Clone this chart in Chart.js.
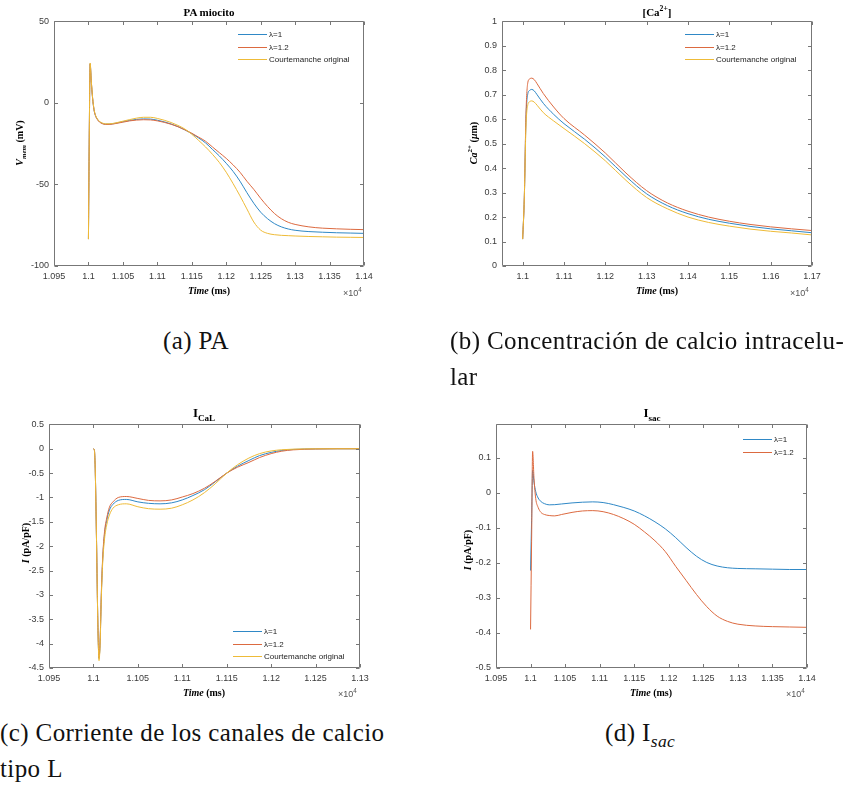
<!DOCTYPE html>
<html>
<head>
<meta charset="utf-8">
<script src="https://cdn.jsdelivr.net/npm/chart.js@4.4.1/dist/chart.umd.min.js"></script>
<style>
    body { margin: 0; background: #fff; width: 850px; height: 785px; position: relative; overflow: hidden; }
    canvas { position: absolute; }
    .lbl { position: absolute; transform: translate(-50%, -50%); white-space: nowrap;
           font-family: "Liberation Serif", "Times New Roman", serif; font-weight: bold; color: #000; }
    .ttl { font-size: 11px; }
    .ttl-big { font-size: 13px; }
    .xl { font-size: 10px; }
    .yl { font-size: 10px; transform: translate(-50%, -50%) rotate(-90deg); }
    .exp { position: absolute; transform: translateY(-50%); font-family: "Liberation Sans", Arial, sans-serif;
           font-size: 9px; color: #555; white-space: nowrap; }
    .cap { position: absolute; font-family: "Liberation Serif", "Times New Roman", serif; font-size: 25px;
           line-height: 36px; letter-spacing: 0.4px; white-space: nowrap; color: #111; }
    sub, sup { font-size: 70%; line-height: 0; }
</style>
</head>
<body>
<canvas id="chart-pa"></canvas>
<canvas id="chart-ca"></canvas>
<canvas id="chart-ical"></canvas>
<canvas id="chart-isac"></canvas>

<!-- titles -->
<div class="lbl ttl" style="left:209px; top:12px;">PA miocito</div>
<div class="lbl ttl" style="left:657px; top:12px;">[Ca<sup>2+</sup>]</div>
<div class="lbl ttl-big" style="left:204px; top:413px;">I<sub>CaL</sub></div>
<div class="lbl ttl-big" style="left:652px; top:413px;">I<sub>sac</sub></div>

<!-- axis labels -->
<div class="lbl xl" style="left:209px; top:290px;"><i>Time</i> (ms)</div>
<div class="lbl xl" style="left:657px; top:290px;"><i>Time</i> (ms)</div>
<div class="lbl xl" style="left:204px; top:692px;"><i>Time</i> (ms)</div>
<div class="lbl xl" style="left:651px; top:692px;"><i>Time</i> (ms)</div>

<div class="lbl yl" style="left:19px; top:143px;"><i>V<sub>mem</sub></i> (mV)</div>
<div class="lbl yl" style="left:473px; top:143px;"><i>Ca</i><sup>2+</sup> (<i>μ</i>m)</div>
<div class="lbl yl" style="left:25px; top:543px;"><i>I</i> (pA/pF)</div>
<div class="lbl yl" style="left:467px; top:550px;"><i>I</i> (pA/pF)</div>

<div class="exp" style="left:343px; top:293px;">×10<sup>4</sup></div>
<div class="exp" style="left:790px; top:293px;">×10<sup>4</sup></div>
<div class="exp" style="left:338px; top:694px;">×10<sup>4</sup></div>
<div class="exp" style="left:786px; top:694px;">×10<sup>4</sup></div>

<!-- sub-figure captions -->
<div class="cap" style="left:163px; top:323px;">(a) PA</div>
<div class="cap" style="left:450px; top:323px;">(b) Concentración de calcio intracelu-<br>lar</div>
<div class="cap" style="left:0px; top:715px;">(c) Corriente de los canales de calcio<br>tipo L</div>
<div class="cap" style="left:605px; top:715px;">(d) I<sub><i>sac</i></sub></div>

<script>
// ---- data (time in ms, plotted as x10^4) ----
const seriesNames = ['λ=1', 'λ=1.2', 'Courtemanche original'];

// (a) membrane potential, mV
const timeA = [11000, 11001, 11002.5, 11004, 11006, 11008, 11010, 11013, 11016, 11020, 11025, 11030,
    11040, 11050, 11060, 11070, 11080, 11090, 11100, 11110, 11120, 11130, 11140, 11150,
    11160, 11170, 11180, 11190, 11200, 11210, 11220, 11230, 11240, 11250, 11260, 11270, 11280, 11290, 11300,
    11320, 11340, 11360, 11380, 11400];
const vBlue = [-83.5, -30, 24, 14, 3, -4, -7.5, -10, -11.5, -12.5, -13, -13,
    -12.4, -11.5, -10.7, -10.1, -9.8, -9.9, -10.6, -11.6, -12.9, -14.5, -16.5, -18.8,
    -21.5, -24.5, -28.5, -32.5, -37, -42, -48, -55, -61.5, -67, -71, -74, -76, -77.3, -78.1,
    -78.9, -79.3, -79.6, -79.8, -80];
const vOrange = [-83.5, -30, 24, 14, 3, -4, -7.6, -10.2, -11.7, -12.7, -13.2, -13.2,
    -12.6, -11.8, -11.0, -10.5, -10.3, -10.4, -11.0, -11.9, -13.1, -14.6, -16.5, -18.6,
    -21, -23.5, -27, -30.5, -34, -38, -42.5, -48, -53, -58.5, -63.5, -67.8, -71, -73.2, -74.5,
    -76, -76.8, -77.2, -77.5, -77.7];
const vYellow = [-83.5, -30, 24.5, 14.5, 3.5, -3.5, -7.2, -9.8, -11.3, -12.3, -12.8, -12.8,
    -12.2, -11.2, -10.2, -9.3, -8.8, -8.8, -9.5, -10.6, -12.0, -13.8, -16.0, -19.2,
    -23, -27, -31.5, -36.5, -42.5, -49.5, -57, -65, -73, -78, -80, -80.8, -81.2, -81.4, -81.6,
    -81.9, -82.1, -82.3, -82.4, -82.5];

// (b) intracellular calcium
const timeB = [11000, 11004, 11008, 11012, 11017, 11022, 11028, 11035, 11050, 11075, 11100, 11150,
    11200, 11250, 11300, 11350, 11400, 11450, 11500, 11550, 11600, 11650, 11700];
const caBlue = [0.11, 0.28, 0.6, 0.7, 0.718, 0.722, 0.716, 0.7, 0.665, 0.62, 0.582, 0.518,
    0.446, 0.366, 0.295, 0.247, 0.214, 0.191, 0.175, 0.162, 0.152, 0.144, 0.136];
const caOrange = [0.11, 0.28, 0.62, 0.745, 0.765, 0.768, 0.762, 0.745, 0.705, 0.65, 0.603, 0.535,
    0.462, 0.38, 0.308, 0.258, 0.224, 0.2, 0.183, 0.17, 0.16, 0.152, 0.145];
const caYellow = [0.11, 0.28, 0.57, 0.655, 0.672, 0.675, 0.67, 0.657, 0.627, 0.593, 0.562, 0.5,
    0.43, 0.35, 0.28, 0.234, 0.2, 0.178, 0.163, 0.151, 0.142, 0.135, 0.127];

// (c) L-type calcium current, pA/pF
const timeC = [11000, 11001, 11002, 11003.5, 11005, 11006.3, 11007.5, 11009, 11010.5, 11012.5, 11015, 11018,
    11022, 11028, 11037, 11050, 11062, 11075, 11088, 11100, 11112, 11125, 11137, 11150,
    11162, 11175, 11187, 11200, 11212, 11225, 11250, 11275, 11300];
const icalBlue = [0, -0.02, -0.4, -1.9, -3.6, -4.3, -3.97, -2.95, -2.25, -1.76, -1.47, -1.26,
    -1.14, -1.06, -1.04, -1.09, -1.12, -1.13, -1.11, -1.05, -0.96, -0.84, -0.68, -0.5,
    -0.36, -0.24, -0.14, -0.075, -0.035, -0.014, -0.003, 0, 0];
const icalOrange = [0, -0.02, -0.4, -1.9, -3.6, -4.3, -3.95, -2.9, -2.2, -1.7, -1.42, -1.2,
    -1.09, -1.0, -0.98, -1.02, -1.06, -1.07, -1.05, -0.99, -0.92, -0.81, -0.67, -0.5,
    -0.38, -0.28, -0.18, -0.1, -0.05, -0.022, -0.005, 0, 0];
const icalYellow = [0, -0.02, -0.4, -1.9, -3.62, -4.35, -4.02, -3.0, -2.32, -1.85, -1.56, -1.36,
    -1.22, -1.15, -1.13, -1.19, -1.23, -1.24, -1.22, -1.15, -1.05, -0.9, -0.72, -0.5,
    -0.33, -0.19, -0.1, -0.045, -0.02, -0.008, -0.001, 0, 0];

// (d) stretch-activated current, pA/pF
const timeD = [11000, 11001.5, 11003, 11005, 11007.5, 11011, 11015, 11020, 11027, 11035, 11045, 11060,
    11075, 11090, 11105, 11120, 11135, 11150, 11165, 11180, 11195, 11210, 11225, 11240,
    11255, 11270, 11285, 11300, 11325, 11350, 11375, 11400];
const isacBlue = [-0.222, -0.08, 0.064, 0.03, 0.003, -0.015, -0.025, -0.031, -0.0345, -0.034, -0.032, -0.029,
    -0.027, -0.026, -0.028, -0.034, -0.042, -0.052, -0.066, -0.083, -0.103, -0.128, -0.156, -0.181,
    -0.199, -0.209, -0.214, -0.216, -0.217, -0.218, -0.219, -0.219];
const isacOrange = [-0.39, -0.14, 0.118, 0.04, -0.017, -0.042, -0.056, -0.062, -0.065, -0.066, -0.062, -0.056,
    -0.052, -0.051, -0.054, -0.062, -0.074, -0.09, -0.112, -0.137, -0.168, -0.21, -0.25, -0.29,
    -0.325, -0.352, -0.367, -0.375, -0.38, -0.382, -0.383, -0.384];

// tick values
const xTicksA = [10950, 11000, 11050, 11100, 11150, 11200, 11250, 11300, 11350, 11400];
const yTicksA = [-100, -50, 0, 50];
const xTicksB = [11000, 11100, 11200, 11300, 11400, 11500, 11600, 11700];
const yTicksB = [0, 0.1, 0.2, 0.3, 0.4, 0.5, 0.6, 0.7, 0.8, 0.9, 1];
const xTicksC = [10950, 11000, 11050, 11100, 11150, 11200, 11250, 11300];
const yTicksC = [-4.5, -4, -3.5, -3, -2.5, -2, -1.5, -1, -0.5, 0, 0.5];
const xTicksD = [10950, 11000, 11050, 11100, 11150, 11200, 11250, 11300, 11350, 11400];
const yTicksD = [-0.5, -0.4, -0.3, -0.2, -0.1, 0, 0.1];

// MATLAB default line colours (a bit lighter, as they look in the figure)
const lineColors = ['#2f88c6', '#dc6a40', '#eebb38'];

Chart.defaults.font.family = '"Liberation Sans", Arial, sans-serif';
Chart.defaults.font.size = 9;

// box with inward ticks on all four sides + legend drawn inside the axes
const matlabAxes = {
    id: 'matlabAxes',
    afterDatasetsDraw(chart, args, opts) {
        const {ctx, chartArea, scales} = chart;
        const L = Math.round(chartArea.left) + 0.5;
        const R = Math.round(chartArea.right) - 0.5;
        const T = Math.round(chartArea.top) + 0.5;
        const B = Math.round(chartArea.bottom) - 0.5;
        const tl = 3.5;

        ctx.save();
        ctx.strokeStyle = '#777';
        ctx.lineWidth = 1;
        ctx.beginPath();
        ctx.rect(L, T, R - L, B - T);
        for (const t of scales.x.ticks) {
            const px = Math.round(scales.x.getPixelForValue(t.value)) + 0.5;
            ctx.moveTo(px, B); ctx.lineTo(px, B - tl);
            ctx.moveTo(px, T); ctx.lineTo(px, T + tl);
        }
        for (const t of scales.y.ticks) {
            const py = Math.round(scales.y.getPixelForValue(t.value)) + 0.5;
            ctx.moveTo(L, py); ctx.lineTo(L + tl, py);
            ctx.moveTo(R, py); ctx.lineTo(R - tl, py);
        }
        ctx.stroke();

        // legend (no box, like "legend boxoff")
        if (opts.legend) {
            const lg = opts.legend;
            ctx.font = '8px "Liberation Sans", Arial, sans-serif';
            ctx.textBaseline = 'middle';
            ctx.textAlign = 'left';
            chart.data.datasets.forEach((ds, i) => {
                const y = Math.round(chartArea.top + lg.y + i * 12.5) + 0.5;
                const x0 = chartArea.left + lg.x;
                ctx.strokeStyle = ds.borderColor;
                ctx.beginPath();
                ctx.moveTo(x0, y);
                ctx.lineTo(x0 + 29, y);
                ctx.stroke();
                ctx.fillStyle = '#222';
                ctx.fillText(ds.label, x0 + 31, y);
            });
        }
        ctx.restore();
    }
};

function fmtTime(v) {
    return String(+(v / 1e4).toFixed(4));
}

function fmtNum(v) {
    return String(+v.toFixed(2));
}

function makeDataset(label, times, values, idx) {
    return {
        label: label,
        data: times.map((t, i) => ({x: t, y: values[i]})),
        borderColor: lineColors[idx],
        borderWidth: 1,
        pointRadius: 0,
        cubicInterpolationMode: 'monotone',
        order: 3 - idx // later series on top, like MATLAB
    };
}

function buildChart(panel) {
    const padTop = 10, padRight = 18, xH = 22;
    const canvas = document.getElementById(panel.canvasId);
    canvas.width = panel.yW + panel.w + padRight;
    canvas.height = padTop + panel.h + xH;
    canvas.style.left = (panel.left - panel.yW) + 'px';
    canvas.style.top = (panel.top - padTop) + 'px';

    return new Chart(canvas, {
        type: 'line',
        data: {datasets: panel.datasets},
        options: {
            responsive: false,
            animation: false,
            layout: {padding: {top: padTop, right: padRight, left: 0, bottom: 0}},
            plugins: {
                legend: {display: false},
                tooltip: {enabled: false},
                matlabAxes: {legend: panel.legend}
            },
            scales: {
                x: {
                    type: 'linear',
                    min: panel.xMin,
                    max: panel.xMax,
                    grid: {display: false, drawTicks: false},
                    border: {display: false},
                    afterBuildTicks: s => { s.ticks = panel.xTicks.map(v => ({value: v})); },
                    afterFit: s => { s.height = xH; },
                    ticks: {
                        color: '#3a3a3a', padding: 5, maxRotation: 0, autoSkip: false,
                        callback: v => fmtTime(v)
                    }
                },
                y: {
                    type: 'linear',
                    min: panel.yMin,
                    max: panel.yMax,
                    grid: {display: false, drawTicks: false},
                    border: {display: false},
                    afterBuildTicks: s => { s.ticks = panel.yTicks.map(v => ({value: v})); },
                    afterFit: s => { s.width = panel.yW; },
                    ticks: {
                        color: '#3a3a3a', padding: 5, autoSkip: false,
                        callback: v => fmtNum(v)
                    }
                }
            }
        },
        plugins: [matlabAxes]
    });
}

let charts = {
    pa: buildChart({
        canvasId: 'chart-pa', left: 54, top: 21, w: 310, h: 245, yW: 50,
        xMin: 10950, xMax: 11400, yMin: -100, yMax: 50, xTicks: xTicksA, yTicks: yTicksA,
        legend: {x: 184, y: 13},
        datasets: [
            makeDataset(seriesNames[0], timeA, vBlue, 0),
            makeDataset(seriesNames[1], timeA, vOrange, 1),
            makeDataset(seriesNames[2], timeA, vYellow, 2)
        ]
    }),
    ca: buildChart({
        canvasId: 'chart-ca', left: 502, top: 21, w: 310, h: 245, yW: 50,
        xMin: 10950, xMax: 11700, yMin: 0, yMax: 1, xTicks: xTicksB, yTicks: yTicksB,
        legend: {x: 183, y: 13},
        datasets: [
            makeDataset(seriesNames[0], timeB, caBlue, 0),
            makeDataset(seriesNames[1], timeB, caOrange, 1),
            makeDataset(seriesNames[2], timeB, caYellow, 2)
        ]
    }),
    ical: buildChart({
        canvasId: 'chart-ical', left: 49, top: 424, w: 311, h: 244, yW: 45,
        xMin: 10950, xMax: 11300, yMin: -4.5, yMax: 0.5, xTicks: xTicksC, yTicks: yTicksC,
        legend: {x: 184, y: 207},
        datasets: [
            makeDataset(seriesNames[0], timeC, icalBlue, 0),
            makeDataset(seriesNames[1], timeC, icalOrange, 1),
            makeDataset(seriesNames[2], timeC, icalYellow, 2)
        ]
    }),
    isac: buildChart({
        canvasId: 'chart-isac', left: 496, top: 424, w: 311, h: 244, yW: 50,
        xMin: 10950, xMax: 11400, yMin: -0.5, yMax: 0.195, xTicks: xTicksD, yTicks: yTicksD,
        legend: {x: 247, y: 15},
        datasets: [
            makeDataset(seriesNames[0], timeD, isacBlue, 0),
            makeDataset(seriesNames[1], timeD, isacOrange, 1)
        ]
    })
};
</script>
</body>
</html>
